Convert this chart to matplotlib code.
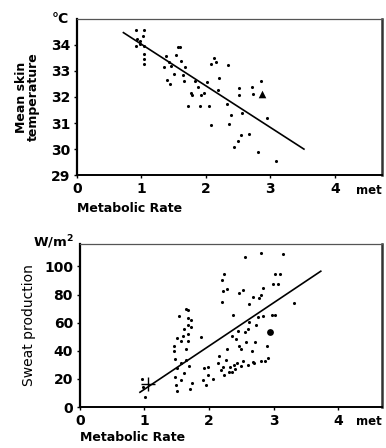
import numpy as np
import matplotlib.pyplot as plt

# top panel: mean skin temperature vs metabolic rate
met_t = [0.91, 1.04, 1.03, 0.93, 0.98, 0.91, 1.04, 1.04, 1.04, 1.04, 0.97,
         1.35, 1.38, 1.39, 1.43, 1.44, 1.46, 1.50, 1.53, 1.56, 1.60, 1.61,
         1.65, 1.66, 1.67, 1.72, 1.77, 1.79, 1.83, 1.87, 1.91, 1.92, 1.97,
         2.01, 2.05, 2.08, 2.08, 2.13, 2.16, 2.18, 2.21, 2.32, 2.34, 2.36,
         2.39, 2.43, 2.50, 2.51, 2.52, 2.55, 2.56, 2.67, 2.71, 2.73, 2.80,
         2.85, 2.94, 3.09]
temp = [34.59, 34.59, 34.34, 34.22, 34.15, 33.96, 33.96, 33.65, 33.46, 33.27, 34.03,
        33.14, 33.58, 32.66, 33.33, 32.48, 33.20, 32.90, 33.60, 33.90, 33.90, 33.39,
        32.86, 32.63, 33.16, 31.64, 32.15, 32.06, 32.60, 32.40, 31.64, 32.06, 32.15,
        32.57, 31.64, 33.27, 30.92, 33.49, 33.33, 32.28, 32.72, 31.72, 33.24, 30.96,
        31.30, 30.10, 30.33, 32.35, 32.06, 30.54, 31.37, 30.58, 32.40, 32.13, 29.87,
        32.60, 31.18, 29.53]
tri_t = ([2.875], [32.13])
fit_t = ([0.72, 3.52], [34.47, 30.0])

# bottom panel: sweat production vs metabolic rate
met_s = [0.96, 0.98, 1.01, 1.54, 1.56, 1.46, 1.48, 1.50, 1.48, 1.49, 1.51,
         1.56, 1.64, 1.65, 1.67, 1.68, 1.68, 1.67, 1.68, 1.64, 1.72, 1.72,
         1.69, 1.71, 1.61, 1.56, 1.46, 1.51, 1.59, 1.61, 1.74, 1.87, 1.90,
         1.92, 1.98, 1.99, 1.95, 2.06, 2.14, 2.16, 2.18, 2.21, 2.23, 2.26,
         2.28, 2.31, 2.33, 2.36, 2.37, 2.38, 2.42, 2.45, 2.44, 2.46, 2.49,
         2.52, 2.55, 2.57, 2.60, 2.62, 2.66, 2.68, 2.71, 2.73, 2.76, 2.77,
         2.81, 2.84, 2.86, 2.89, 2.91, 2.97, 3.02, 2.99, 3.07, 3.10, 3.15,
         2.81, 2.56, 3.31, 3.02, 2.84, 2.23, 2.20, 2.21, 2.28, 2.20, 2.47,
         2.53, 2.68, 2.62, 2.35, 2.40, 2.50, 2.60, 2.70, 2.80]
sweat = [19.8, 14.0, 7.0, 65.0, 47.0, 43.4, 34.0, 28.0, 21.5, 15.4, 11.7,
         19.0, 33.6, 41.0, 47.0, 52.0, 58.0, 63.0, 69.0, 70.0, 62.0, 57.0,
         29.0, 13.0, 24.0, 31.0, 40.0, 49.0, 50.7, 55.6, 17.0, 49.5, 19.0,
         27.6, 28.8, 22.7, 15.4, 20.2, 31.2, 36.6, 26.3, 28.8, 22.7, 33.7,
         41.0, 25.0, 28.8, 50.7, 65.8, 30.0, 48.3, 54.4, 31.2, 43.4, 41.0,
         32.4, 53.7, 45.9, 55.6, 60.5, 39.8, 31.7, 46.3, 58.0, 64.1, 77.6,
         79.5, 84.9, 32.4, 43.4, 34.6, 65.4, 94.6, 87.3, 87.3, 94.6, 108.5,
         109.8, 106.8, 73.9, 65.8, 64.9, 94.6, 90.2, 82.4, 83.7, 74.4, 81.2,
         82.9, 78.0, 73.2, 25.0, 27.0, 29.0, 30.0, 31.0, 33.0]
big_s = ([2.94], [53.2])
cross_s = ([1.05], [16.6])
fit_s = ([0.93, 3.73], [10.5, 96.6])

plt.rcParams['font.family'] = 'DejaVu Sans'
plt.rcParams['font.weight'] = 'bold'

fig = plt.figure(figsize=(3.86, 4.48), dpi=100)
ax1 = fig.add_axes([0.1995, 0.609, 0.790, 0.349])
ax2 = fig.add_axes([0.207, 0.0915, 0.783, 0.364])

def style(ax):
    ax.spines['left'].set_linewidth(1.6)
    ax.spines['bottom'].set_linewidth(1.4)
    ax.spines['right'].set_linewidth(1.8)
    ax.spines['right'].set_color('#333333')
    ax.spines['top'].set_linewidth(0.9)
    ax.spines['top'].set_color('#555555')
    ax.tick_params(length=2, width=1, labelsize=10, pad=3)
    for lab in ax.get_xticklabels() + ax.get_yticklabels():
        lab.set_fontweight('bold')

ax1.scatter(met_t, temp, s=5, c='black', marker='o', linewidths=0)
ax1.scatter(*tri_t, s=30, c='black', marker='^', linewidths=0)
ax1.plot(*fit_t, color='black', lw=1.2)
ax1.set_xlim(0, 4.73)
ax1.set_ylim(29, 35)
ax1.set_xticks([0, 1, 2, 3, 4])
ax1.set_yticks([29, 30, 31, 32, 33, 34])
style(ax1)
ax1.set_ylabel('Mean skin\ntemperature', fontsize=9, fontweight='bold', labelpad=8, linespacing=0.9)
ax1.text(-0.025, 1.0, '°C', transform=ax1.transAxes, ha='right', va='center', fontsize=10, fontweight='bold')
ax1.text(1.0, -0.055, 'met', transform=ax1.transAxes, ha='right', va='top', fontsize=8.5, fontweight='bold')
ax1.text(0.0, -0.17, 'Metabolic Rate', transform=ax1.transAxes, ha='left', va='top', fontsize=9, fontweight='bold')

ax2.scatter(met_s, sweat, s=5, c='black', marker='o', linewidths=0)
ax2.scatter(*big_s, s=24, c='black', marker='o', linewidths=0)
ax2.scatter(*cross_s, s=90, c='black', marker='+', linewidths=1.0)
ax2.plot(*fit_s, color='black', lw=1.2)
ax2.set_xlim(0, 4.68)
ax2.set_ylim(0, 116)
ax2.set_xticks([0, 1, 2, 3, 4])
ax2.set_yticks([0, 20, 40, 60, 80, 100])
style(ax2)
ax2.set_ylabel('Sweat production', fontsize=10, labelpad=6)
ax2.text(-0.02, 1.01, 'W/m$^\\mathbf{2}$', transform=ax2.transAxes, ha='right', va='center', fontsize=9.5, fontweight='bold')
ax2.text(1.0, -0.05, 'met', transform=ax2.transAxes, ha='right', va='top', fontsize=8.5, fontweight='bold')
ax2.text(0.0, -0.15, 'Metabolic Rate', transform=ax2.transAxes, ha='left', va='top', fontsize=9, fontweight='bold')

fig.savefig('out.png', dpi=100)
